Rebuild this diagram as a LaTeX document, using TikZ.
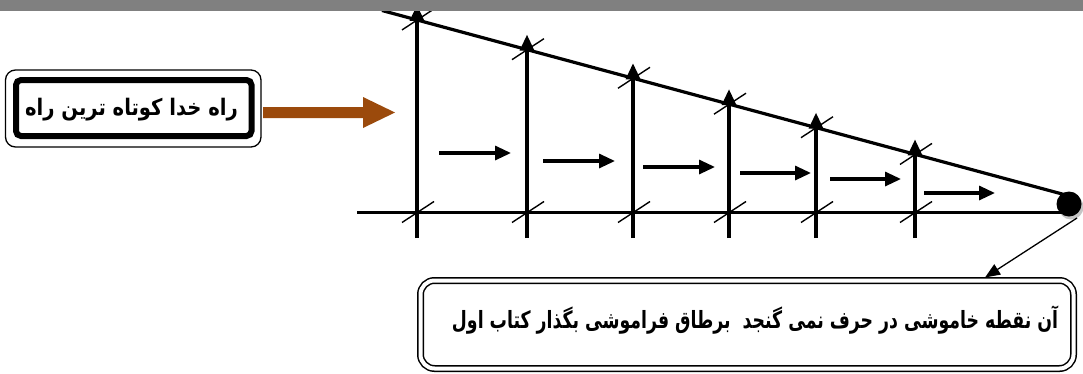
\documentclass[tikz,border=0pt]{standalone}
\usepackage{fontspec}
\newfontfamily\arabicfont[Script=Arabic]{DejaVu Sans}
\TeXXeTstate=1
\usetikzlibrary{arrows.meta,calc}
\definecolor{bargray}{RGB}{128,128,128}
\definecolor{arrowbrown}{RGB}{155,74,12}
\tikzset{
  mainline/.style={line width=3.2pt},
  slashline/.style={line width=1.4pt},
  uparr/.style={line width=3.2pt,-{Triangle[length=16pt,width=14pt]}},
  rarr/.style={line width=3.2pt,-{Triangle[length=16pt,width=14pt]}},
  thinarr/.style={line width=1.3pt,-{Triangle[length=15pt,width=12pt]}},
  lboxstyle/.style={draw,line width=6pt,rounded corners=5pt,minimum width=235.5pt,minimum height=56pt,inner sep=0pt,fill=white},
  bboxstyle/.style={draw,line width=1.5pt,double=white,double distance=4pt,rounded corners=14pt,minimum width=653pt,minimum height=88pt,inner sep=0pt},
  artext/.style={font=\arabicfont\bfseries,inner sep=0pt}
}
\begin{document}
\begin{tikzpicture}[x=1pt,y=-1pt]
\useasboundingbox (0,0) rectangle (1083,373);
\fill[white] (0,0) rectangle (1083,373);

% left box
\node[lboxstyle] (lb) at (133.75,108) {};
\draw[line width=1.3pt,rounded corners=10pt] ($(lb.north west)+(-7.5,-7)$) rectangle ($(lb.south east)+(6.5,8)$);
\node[artext,font=\arabicfont\bfseries\fontsize{19pt}{22pt}\selectfont] (lt) at (131.5,110) {\scalebox{1.03}[1.2]{\beginR راه خدا کوتاه ترین راه\endR}};

% brown block arrow
\fill[arrowbrown] (263,107) -- (363,107) -- (363,97) -- (395,112.5) -- (363,128) -- (363,118) -- (263,118) -- cycle;

% dot
\fill[gray!45] (1071,207) circle (12.5);
\node[circle,fill=black,minimum size=25pt,inner sep=0pt] (dot) at (1069,204) {};

% triangle lines
\coordinate (tstart) at (382,10.5);
\coordinate (tend) at (1064,194.5);
\coordinate (bstart) at (357,212.5);
\coordinate (bend) at (1062,212.5);
\draw[mainline] (tstart) -- (tend);
\draw[mainline] (bstart) -- (bend);

\foreach \x [count=\i] in {417,527,633,729,816,915} {
  \pgfmathsetmacro\yt{10.5+0.27*(\x-382)}
  \coordinate (t\i) at (\x,\yt);
  \coordinate (b\i) at (\x,212.5);
  \coordinate (e\i) at (\x,238);
  \draw[uparr] (e\i) -- ($(t\i)+(0,-15)$);
  \draw[slashline] ($(t\i)+(-15,10)$) -- ($(t\i)+(17,-11)$);
  \draw[slashline] ($(b\i)+(-15,10)$) -- ($(b\i)+(17,-11)$);
}

\foreach \a/\b/\y [count=\i] in {439/511/153,543/615/161,643/715/167,740/811/173,830/901/179,924/995/193} {
  \coordinate (hs\i) at (\a,\y);
  \coordinate (he\i) at (\b,\y);
  \draw[rarr] (hs\i) -- (he\i);
}

% bottom box
\node[bboxstyle] (bb) at (747,324.5) {};
\node[artext,font=\arabicfont\bfseries\fontsize{19pt}{22pt}\selectfont] (bt) at (755,320) {\scalebox{0.91}[1.25]{\beginR آن نقطه خاموشی در حرف نمی گنجد\ \ برطاق فراموشی بگذار کتاب اول\endR}};

% thin arrow
\coordinate (as) at (1077,218);
\coordinate (ae) at (985,277.5);
\draw[thinarr] (as) -- (ae);

% top gray bar
\fill[bargray] (0,0) rectangle (1083,11);
\end{tikzpicture}
\end{document}
